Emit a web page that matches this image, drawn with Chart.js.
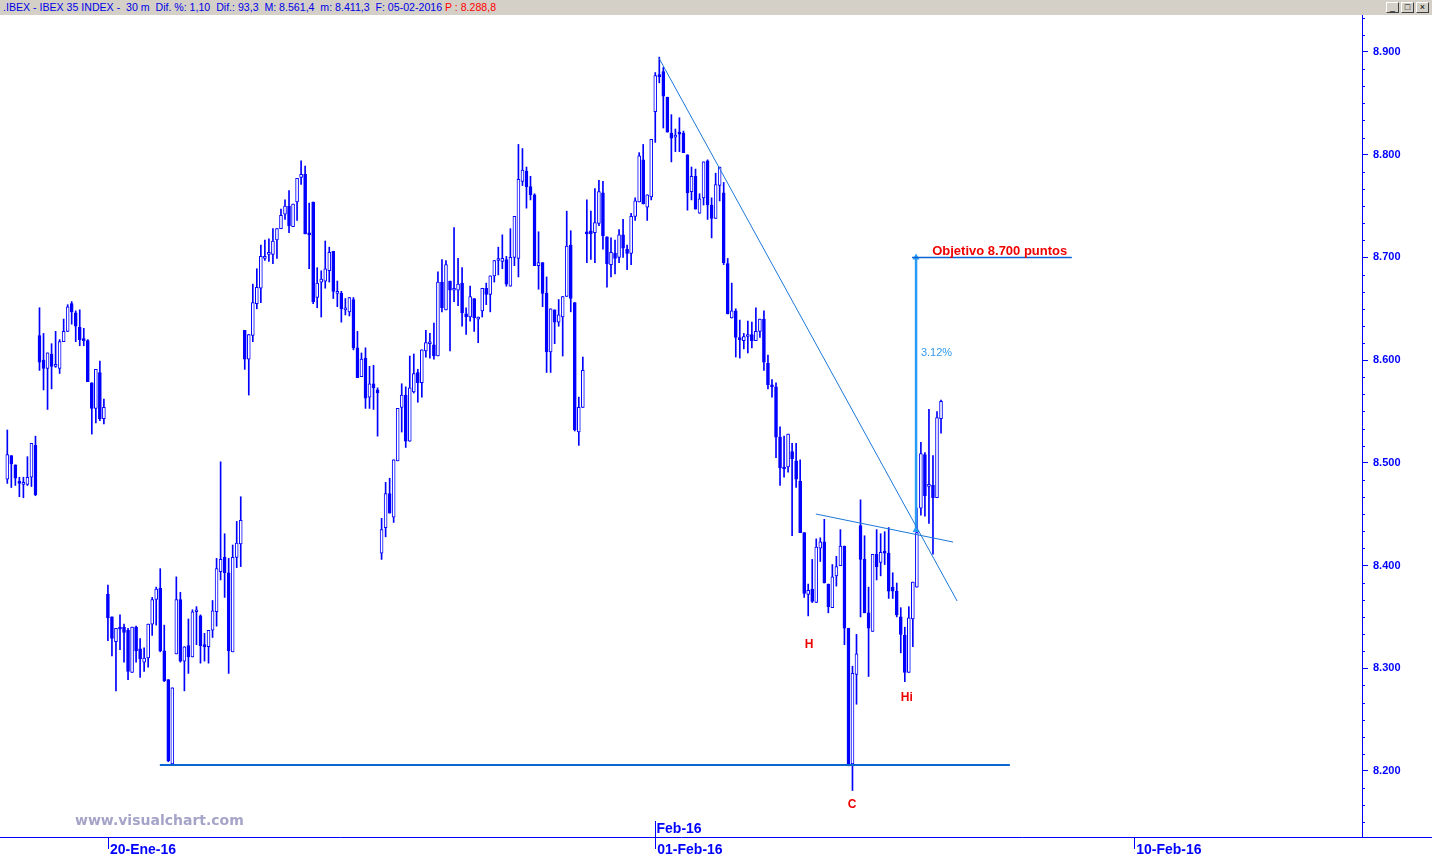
<!DOCTYPE html>
<html>
<head>
<meta charset="utf-8">
<script src="https://cdn.jsdelivr.net/npm/chart.js@4.4.0/dist/chart.umd.min.js"></script>
<style>
  body { margin: 0; width: 1432px; height: 857px; overflow: hidden; background: #fff; position: relative; font-family: "Liberation Sans", Arial, sans-serif; }
  #hdr { position: absolute; left: 0; top: 0; width: 1432px; height: 15px; background: #d4d0c8; font-size: 10.6px; line-height: 15px; color: #0000e6; white-space: pre; padding-left: 3px; box-sizing: border-box; }
  #hdr .p { color: #ff0000; }
  #btns { position: absolute; right: 3px; top: 2px; height: 11px; }
  #btns div { display: inline-block; width: 11px; height: 9px; margin-left: 2px; background: #d4d0c8; border-top: 1px solid #fff; border-left: 1px solid #fff; border-right: 1px solid #404040; border-bottom: 1px solid #404040; font-size: 9px; line-height: 9px; text-align: center; color: #000; vertical-align: top; }
  #wrap { position: absolute; left: 0; top: 15px; width: 1432px; height: 842px; }
  #wm { position: absolute; left: 75px; top: 812px; font: bold 14px "DejaVu Sans", Verdana, sans-serif; color: #a4a4c8; }
</style>
</head>
<body>
<div id="hdr"><span>.IBEX - IBEX 35 INDEX -  30 m  Dif. %: 1,10  Dif.: 93,3  M: 8.561,4  m: 8.411,3  F: 05-02-2016 </span><span class="p">P : 8.288,8</span>
  <div id="btns"><div>_</div><div>□</div><div>×</div></div>
</div>
<div id="wrap"><canvas id="chart"></canvas></div>
<div id="wm">www.visualchart.com</div>
<script>
// IBEX 35, 30 minute candles, 18-Ene-16 (last bars) .. 05-Feb-16
const opens = [
  8484, 8507, 8498, 8481, 8479, 8479, 8486, 8517,
  8624, 8600, 8592, 8606, 8594, 8592, 8618, 8628, 8655, 8646, 8632, 8620, 8619, 8578, 8553, 8588, 8543,
  8372, 8350, 8326, 8340, 8340, 8337, 8296, 8340, 8319, 8306, 8310, 8343, 8367, 8378, 8317, 8289, 8207,
  8314, 8367, 8307, 8322, 8311, 8355, 8351, 8323, 8321, 8337, 8355, 8394, 8408, 8393, 8316, 8408, 8421,
  8629, 8601, 8624, 8655, 8670, 8699, 8703, 8703, 8717, 8728, 8742, 8750, 8730, 8754, 8778, 8781, 8723,
  8754, 8661, 8676, 8677, 8687, 8706, 8665, 8665, 8649, 8647, 8659, 8612, 8584, 8602, 8564, 8577, 8571,
  8412, 8437, 8470, 8447, 8502, 8554, 8566, 8521, 8569, 8588, 8578, 8609, 8616, 8615, 8604, 8676, 8649,
  8677, 8668, 8668, 8675, 8645, 8642, 8660, 8640, 8648, 8670, 8664, 8682, 8697, 8696, 8698, 8672, 8700,
  8699, 8774, 8784, 8769, 8761, 8692, 8695, 8665, 8608, 8649, 8637, 8642, 8662, 8712, 8656, 8530, 8554,
  8724, 8726, 8724, 8733, 8763, 8720, 8693, 8704, 8700, 8722, 8708, 8704, 8740, 8754, 8795, 8749, 8759,
  8842, 8878, 8881, 8856, 8821, 8817, 8821, 8821, 8800, 8764, 8779, 8743, 8758, 8794, 8751, 8738, 8770,
  8763, 8694, 8641, 8648, 8622, 8619, 8623, 8625, 8619, 8628, 8640, 8597, 8576, 8574, 8525, 8495, 8496,
  8511, 8502, 8482, 8432, 8372, 8377, 8364, 8417, 8423, 8382, 8359, 8390, 8400, 8419, 8339, 8207, 8294,
  8439, 8406, 8354, 8336, 8411, 8403, 8414, 8412, 8379, 8375, 8350, 8332, 8296, 8348, 8379, 8456, 8508,
  8477, 8478, 8466, 8543
];
const highs = [
  8532, 8507, 8498, 8486, 8486, 8506, 8519, 8526,
  8651, 8626, 8607, 8616, 8628, 8620, 8640, 8654, 8657, 8648, 8649, 8631, 8620, 8578, 8591, 8599, 8562,
  8381, 8350, 8339, 8352, 8343, 8339, 8340, 8341, 8329, 8320, 8343, 8369, 8379, 8397, 8342, 8289, 8281,
  8389, 8374, 8321, 8348, 8357, 8360, 8352, 8334, 8337, 8366, 8407, 8501, 8431, 8407, 8420, 8443, 8467,
  8629, 8625, 8674, 8689, 8712, 8717, 8718, 8728, 8728, 8747, 8756, 8765, 8752, 8777, 8794, 8789, 8753,
  8754, 8690, 8687, 8716, 8710, 8706, 8677, 8667, 8660, 8661, 8661, 8628, 8607, 8612, 8594, 8595, 8573,
  8446, 8481, 8485, 8503, 8553, 8577, 8574, 8604, 8606, 8591, 8610, 8629, 8626, 8636, 8686, 8698, 8697,
  8677, 8729, 8699, 8690, 8651, 8672, 8660, 8642, 8670, 8675, 8682, 8697, 8710, 8722, 8701, 8728, 8740,
  8810, 8806, 8788, 8779, 8762, 8725, 8695, 8681, 8650, 8649, 8659, 8662, 8745, 8726, 8656, 8564, 8603,
  8756, 8745, 8767, 8775, 8774, 8720, 8719, 8717, 8727, 8737, 8712, 8743, 8758, 8802, 8810, 8761, 8815,
  8880, 8895, 8885, 8856, 8839, 8825, 8836, 8823, 8800, 8788, 8786, 8762, 8793, 8795, 8758, 8782, 8788,
  8773, 8699, 8675, 8650, 8639, 8626, 8638, 8637, 8651, 8640, 8648, 8605, 8581, 8578, 8535, 8526, 8528,
  8519, 8519, 8503, 8432, 8382, 8406, 8426, 8427, 8445, 8382, 8401, 8409, 8435, 8419, 8339, 8302, 8333,
  8464, 8429, 8379, 8411, 8435, 8431, 8433, 8437, 8393, 8383, 8359, 8340, 8360, 8384, 8456, 8520, 8510,
  8552, 8507, 8550, 8561
];
const lows = [
  8480, 8476, 8478, 8467, 8466, 8478, 8477, 8468,
  8590, 8571, 8552, 8572, 8593, 8587, 8618, 8628, 8635, 8618, 8614, 8614, 8579, 8528, 8539, 8541, 8538,
  8327, 8312, 8278, 8318, 8306, 8289, 8296, 8306, 8291, 8297, 8301, 8332, 8342, 8316, 8287, 8209, 8207,
  8314, 8306, 8278, 8295, 8311, 8323, 8305, 8307, 8305, 8330, 8341, 8386, 8369, 8295, 8316, 8398, 8399,
  8591, 8566, 8618, 8650, 8656, 8697, 8696, 8694, 8699, 8728, 8737, 8724, 8730, 8736, 8771, 8723, 8689,
  8655, 8651, 8642, 8670, 8676, 8660, 8652, 8637, 8644, 8643, 8610, 8583, 8584, 8553, 8553, 8552, 8526,
  8406, 8428, 8451, 8442, 8502, 8530, 8515, 8521, 8568, 8559, 8564, 8603, 8602, 8601, 8604, 8647, 8649,
  8609, 8657, 8653, 8633, 8625, 8638, 8628, 8617, 8642, 8654, 8647, 8676, 8683, 8689, 8672, 8672, 8692,
  8681, 8770, 8748, 8756, 8692, 8669, 8652, 8588, 8588, 8616, 8633, 8604, 8662, 8647, 8531, 8517, 8554,
  8695, 8698, 8695, 8731, 8708, 8671, 8681, 8684, 8695, 8700, 8688, 8693, 8736, 8754, 8752, 8736, 8756,
  8812, 8870, 8826, 8822, 8793, 8803, 8803, 8802, 8746, 8756, 8747, 8743, 8751, 8737, 8719, 8738, 8755,
  8693, 8645, 8641, 8603, 8602, 8611, 8607, 8612, 8619, 8622, 8590, 8572, 8564, 8505, 8478, 8486, 8491,
  8429, 8476, 8432, 8369, 8351, 8364, 8364, 8404, 8383, 8354, 8359, 8380, 8400, 8323, 8205, 8181, 8265,
  8350, 8354, 8292, 8336, 8386, 8390, 8401, 8368, 8368, 8350, 8315, 8287, 8296, 8321, 8379, 8449, 8448,
  8441, 8411, 8466, 8529
];
const closes = [
  8508, 8499, 8485, 8480, 8480, 8486, 8519, 8469,
  8598, 8592, 8607, 8594, 8595, 8618, 8628, 8652, 8647, 8633, 8620, 8619, 8579, 8553, 8591, 8543, 8554,
  8349, 8329, 8339, 8338, 8335, 8297, 8340, 8317, 8309, 8310, 8343, 8367, 8377, 8317, 8288, 8210, 8281,
  8367, 8307, 8321, 8311, 8355, 8355, 8322, 8321, 8337, 8356, 8397, 8406, 8393, 8317, 8408, 8422, 8444,
  8601, 8625, 8656, 8671, 8701, 8700, 8703, 8716, 8728, 8741, 8750, 8731, 8752, 8777, 8781, 8723, 8722,
  8657, 8675, 8679, 8689, 8705, 8667, 8665, 8650, 8649, 8661, 8612, 8583, 8601, 8563, 8577, 8573, 8568,
  8435, 8470, 8451, 8503, 8553, 8566, 8521, 8573, 8587, 8578, 8610, 8617, 8616, 8604, 8676, 8651, 8693,
  8668, 8669, 8674, 8646, 8642, 8662, 8641, 8642, 8670, 8664, 8682, 8697, 8697, 8699, 8674, 8700, 8740,
  8776, 8785, 8769, 8761, 8692, 8695, 8665, 8608, 8650, 8637, 8644, 8662, 8711, 8660, 8532, 8554, 8590,
  8723, 8723, 8734, 8764, 8721, 8694, 8705, 8699, 8722, 8709, 8704, 8740, 8755, 8799, 8752, 8761, 8815,
  8877, 8876, 8857, 8822, 8816, 8819, 8820, 8802, 8763, 8779, 8747, 8757, 8793, 8751, 8738, 8771, 8788,
  8695, 8645, 8648, 8622, 8620, 8623, 8625, 8619, 8628, 8640, 8598, 8576, 8574, 8525, 8495, 8494, 8528,
  8504, 8484, 8432, 8373, 8376, 8365, 8418, 8423, 8383, 8360, 8389, 8399, 8419, 8339, 8206, 8295, 8314,
  8406, 8354, 8339, 8411, 8399, 8413, 8412, 8375, 8375, 8352, 8333, 8296, 8349, 8384, 8432, 8509, 8468,
  8479, 8466, 8544, 8560
];

// date axis: bar index of each labelled session start
const xTickVals = [25, 161, 280];
const xTickLabels = ['20-Ene-16', '01-Feb-16', '10-Feb-16'];
const monthTickVal = 161;
const monthTickLabel = 'Feb-16';

const yTickVals = [8200, 8300, 8400, 8500, 8600, 8700, 8800, 8900];

// drawn studies, [bar index, price]
const supportLine = [[37.9, 8205.8], [249.1, 8205.8]];
const trendLine = [[161.9, 8894.2], [236.0, 8365.5]];
const neckLine = [[200.9, 8450.2], [235.0, 8422.9]];
const targetArrow = [[225.8, 8434.6], [225.8, 8700]];
const targetLine = [[224.8, 8700], [264.5, 8700]];

const noteText = ['Objetivo 8.700 puntos', '3.12%', 'H', 'C', 'Hi'];
const noteX = [229.8, 227.0, 199.2, 209.9, 223.5];
const notePrice = [8706.3, 8606.9, 8322.7, 8166.9, 8271.1];

const BLUE = '#0000ff';
const FONT = '"Liberation Sans", Arial, sans-serif';
Chart.defaults.font.family = FONT;

const idx = opens.map((_, i) => i);
const bodies = idx.map(i => ({ x: i, y: [opens[i], closes[i]] }));
const wicks = idx.map(i => ({ x: i, y: [lows[i], highs[i]] }));
const bodyFill = idx.map(i => closes[i] < opens[i] ? BLUE : '#ffffff');
const pts = a => a.map(p => ({ x: p[0], y: p[1] }));

const fmtPrice = v => (v / 1000).toFixed(3);

const noteStyle = [
  { font: 'bold 13px ' + FONT, color: '#ee0000', align: 'left' },
  { font: '11px ' + FONT, color: '#3399ee', align: 'left' },
  { font: 'bold 12px ' + FONT, color: '#ee0000', align: 'center' },
  { font: 'bold 12px ' + FONT, color: '#ee0000', align: 'center' },
  { font: 'bold 12px ' + FONT, color: '#ee0000', align: 'center' }
];

const extras = {
  id: 'extras',
  afterDraw(chart) {
    const { ctx, chartArea: a, scales: { x, y } } = chart;
    ctx.save();
    ctx.strokeStyle = BLUE;
    ctx.lineWidth = 1;
    // bottom axis runs on under the price scale
    ctx.beginPath();
    ctx.moveTo(a.right, Math.round(a.bottom) + 0.5);
    ctx.lineTo(chart.width, Math.round(a.bottom) + 0.5);
    // date tick marks
    xTickVals.forEach(v => {
      const px = Math.round(x.getPixelForValue(v)) + 0.5;
      ctx.moveTo(px, a.bottom);
      ctx.lineTo(px, a.bottom + 12);
    });
    // month marker above the axis
    const mx = Math.round(x.getPixelForValue(monthTickVal)) + 0.5;
    ctx.moveTo(mx, a.bottom - 16);
    ctx.lineTo(mx, a.bottom);
    // minor price ticks
    for (let k = -2; k < 50; k++) {
      const v = 8900 - k * 100 / 6;
      if (v < y.min || v > y.max || k % 6 === 0) continue;
      const py = Math.round(y.getPixelForValue(v)) + 0.5;
      ctx.moveTo(a.right, py);
      ctx.lineTo(a.right + 3, py);
    }
    ctx.stroke();

    ctx.fillStyle = BLUE;
    ctx.font = 'bold 14px ' + FONT;
    ctx.textAlign = 'left';
    ctx.textBaseline = 'middle';
    ctx.fillText(monthTickLabel, mx + 1, a.bottom - 8);

    noteText.forEach((t, i) => {
      const s = noteStyle[i];
      ctx.font = s.font;
      ctx.fillStyle = s.color;
      ctx.textAlign = s.align;
      ctx.textBaseline = 'middle';
      ctx.fillText(t, x.getPixelForValue(noteX[i]), y.getPixelForValue(notePrice[i]));
    });
    ctx.restore();
  }
};

new Chart(document.getElementById('chart'), {
  type: 'bar',
  data: {
    datasets: [
      { type: 'line', data: pts(trendLine), borderColor: '#1c78d8', borderWidth: 1, pointRadius: 0 },
      { type: 'line', data: pts(neckLine), borderColor: '#1c78d8', borderWidth: 1, pointRadius: 0 },
      { type: 'line', data: pts(supportLine), borderColor: '#0a64d2', borderWidth: 2, pointRadius: 0 },
      { type: 'line', data: pts(targetLine), borderColor: '#0a64d2', borderWidth: 1.5, pointRadius: 0 },
      { type: 'line', data: pts(targetArrow), borderColor: '#2b9cf5', borderWidth: 2.5,
        pointStyle: 'triangle', pointRadius: 4, pointBackgroundColor: '#2b9cf5', pointBorderWidth: 0 },
      { type: 'bar', data: bodies, backgroundColor: bodyFill, borderColor: BLUE, borderWidth: 1,
        borderSkipped: false, barThickness: 3, minBarLength: 2, grouped: false },
      { type: 'bar', data: wicks, backgroundColor: BLUE, borderWidth: 0, barThickness: 1, grouped: false }
    ]
  },
  options: {
    responsive: true,
    maintainAspectRatio: false,
    animation: false,
    events: [],
    layout: { padding: 0, autoPadding: false },
    plugins: { legend: { display: false }, tooltip: { enabled: false } },
    scales: {
      x: {
        type: 'linear', position: 'bottom', min: -1.814, max: 336.6, offset: false,
        grid: { drawOnChartArea: false, drawTicks: false, offset: false },
        border: { color: BLUE, width: 1 },
        ticks: {
          autoSkip: false, maxRotation: 0, align: 'start', labelOffset: 2, padding: 5,
          color: BLUE, font: { size: 14, weight: 'bold' },
          callback: (v, i) => xTickLabels[i]
        },
        afterBuildTicks: s => { s.ticks = xTickVals.map(v => ({ value: v })); },
        afterFit: s => { s.height = 20; s.paddingLeft = 0; s.paddingRight = 0; }
      },
      y: {
        position: 'right', min: 8135.74, max: 8936.02,
        grid: { drawOnChartArea: false, tickLength: 6, color: BLUE },
        border: { color: BLUE, width: 1 },
        ticks: {
          autoSkip: false, padding: 5, color: BLUE, font: { size: 11, weight: 'bold' },
          callback: v => fmtPrice(v)
        },
        afterBuildTicks: s => { s.ticks = yTickVals.map(v => ({ value: v })); },
        afterFit: s => { s.width = 70; s.paddingTop = 0; s.paddingBottom = 0; }
      }
    }
  },
  plugins: [extras]
});
</script>
</body>
</html>
